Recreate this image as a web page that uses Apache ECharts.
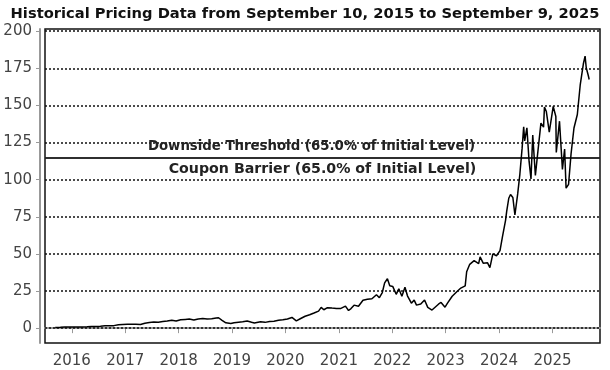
<!DOCTYPE html>
<html>
<head>
<meta charset="utf-8">
<script src="https://cdn.jsdelivr.net/npm/echarts@6/dist/echarts.min.js"></script>
<style>html,body{margin:0;padding:0;background:#fff}#c{width:610px;height:370px}</style>
</head>
<body>
<div id="c"></div>
<script>
const titleText = 'Historical Pricing Data from September 10, 2015 to September 9, 2025';
const thresholdValue = 115;
const thresholdLabel = 'Downside Threshold (65.0% of Initial Level)';
const barrierLabel = 'Coupon Barrier (65.0% of Initial Level)';
const yTicks = [0, 25, 50, 75, 100, 125, 150, 175, 200];
const xTickYears = ['2016', '2017', '2018', '2019', '2020', '2021', '2022', '2023', '2024', '2025'];

const dates = [
'2015-09-10','2015-10-15','2015-11-15','2015-12-15','2016-01-15','2016-02-15','2016-03-15','2016-04-15','2016-05-15','2016-06-15',
'2016-07-15','2016-08-15','2016-09-15','2016-10-15','2016-11-15','2016-12-15','2017-01-15','2017-02-15','2017-03-15','2017-04-15',
'2017-05-15','2017-06-15','2017-07-15','2017-08-15','2017-09-15','2017-10-15','2017-11-15','2017-12-15','2018-01-15','2018-02-15',
'2018-03-15','2018-04-15','2018-05-15','2018-06-15','2018-07-15','2018-08-15','2018-09-15','2018-10-01','2018-10-25','2018-11-20',
'2018-12-24','2019-01-15','2019-02-15','2019-03-15','2019-04-15','2019-05-15','2019-06-03','2019-06-15','2019-07-15','2019-08-15',
'2019-09-15','2019-10-15','2019-11-15','2019-12-15','2020-01-15','2020-02-15','2020-03-16','2020-04-15','2020-05-15','2020-06-15',
'2020-07-15','2020-08-15','2020-09-02','2020-09-20','2020-10-15','2020-11-15','2020-12-15','2021-01-15','2021-02-15','2021-03-08',
'2021-03-25','2021-04-15','2021-05-15','2021-06-15','2021-07-15','2021-08-15','2021-09-15','2021-10-05','2021-10-25','2021-11-10',
'2021-11-29','2021-12-15','2022-01-05','2022-01-28','2022-02-15','2022-03-08','2022-03-29','2022-04-15','2022-05-12','2022-05-31',
'2022-06-16','2022-07-15','2022-08-10','2022-09-01','2022-09-30','2022-10-13','2022-11-15','2022-12-01','2022-12-28','2023-01-15',
'2023-02-15','2023-03-15','2023-04-15','2023-05-15','2023-05-25','2023-06-15','2023-07-15','2023-08-15','2023-08-25','2023-09-15',
'2023-10-15','2023-10-31','2023-11-20','2023-12-15','2024-01-08','2024-01-25','2024-02-15','2024-02-23','2024-03-08','2024-03-20',
'2024-04-05','2024-04-19','2024-05-08','2024-05-23','2024-06-07','2024-06-18','2024-06-25','2024-07-10','2024-07-25','2024-08-07',
'2024-08-19','2024-09-06','2024-09-20','2024-10-14','2024-11-01','2024-11-07','2024-11-20','2024-12-10','2025-01-06','2025-01-24',
'2025-01-27','2025-02-18','2025-03-10','2025-03-25','2025-04-04','2025-04-21','2025-05-08','2025-05-28','2025-06-20','2025-07-10',
'2025-07-31','2025-08-12','2025-08-20','2025-09-02','2025-09-09'
];
const prices = [
0.5,0.6,0.75,0.8,0.7,0.7,0.85,0.9,1.1,1.15,
1.3,1.55,1.6,1.7,2.3,2.5,2.6,2.7,2.6,2.5,
3.3,3.8,4.1,4.0,4.5,4.8,5.3,4.8,5.6,5.9,
6.1,5.5,6.2,6.5,6.2,6.3,6.8,7.0,5.3,3.6,
3.2,3.6,4.0,4.3,4.8,4.0,3.5,3.7,4.3,3.9,
4.5,4.7,5.3,5.6,6.2,7.2,4.9,6.5,8.0,9.0,
10.2,11.5,14.0,12.4,13.8,13.5,13.3,13.3,14.8,11.9,
13.2,15.5,14.8,18.8,19.5,19.8,22.5,20.5,24.0,30.5,
33.3,28.5,28.0,22.8,26.5,21.5,27.5,21.8,16.8,18.9,
15.5,16.2,19.0,14.0,12.2,11.0,16.3,17.3,14.1,17.0,
21.5,24.2,27.0,28.5,38.0,43.0,45.5,43.5,48.0,43.8,
44.0,40.8,50.0,48.8,52.2,61.6,72.6,78.8,87.5,90.0,
88.0,76.2,90.4,103.8,120.9,135.6,126.1,134.9,112.3,100.5,
130.0,102.8,116.0,138.1,135.4,148.9,145.9,132.0,149.4,142.6,
118.4,139.4,106.9,120.7,94.3,96.9,117.4,134.8,143.9,164.1,
177.9,183.2,175.4,170.5,167.5
];

const ts = s => Date.UTC(+s.slice(0, 4), +s.slice(5, 7) - 1, +s.slice(8, 10));
const seriesData = dates.map((d, i) => [ts(d), prices[i]]);
const xTickValues = xTickYears.map(y => ts(y + '-01-01'));
const FONT = 'DejaVu Sans';

const chart = echarts.init(document.getElementById('c'), null, {renderer: 'canvas'});

const gridLines = yTicks.map(v => ({
  yAxis: v,
  lineStyle: {type: [2, 2], color: '#111', width: 1.5},
  label: {show: false}
}));

chart.setOption({
  animation: false,
  backgroundColor: '#fff',
  title: {
    text: titleText,
    left: 'center',
    top: 2,
    textStyle: {fontFamily: FONT, fontSize: 14.7, fontWeight: 'bold', color: '#111'}
  },
  grid: {
    left: 45, right: 10, top: 29, bottom: 27,
    show: true, borderColor: '#111', borderWidth: 1.5, backgroundColor: 'transparent'
  },
  xAxis: {
    type: 'value',
    min: ts('2015-07-02'),
    max: ts('2025-11-22'),
    offset: 5,
    axisLine: {show: true, lineStyle: {color: '#999', width: 2}},
    axisTick: {show: true, length: 5, lineStyle: {color: '#999', width: 1}, customValues: xTickValues},
    axisLabel: {
      customValues: xTickValues,
      formatter: v => String(new Date(v).getUTCFullYear()),
      fontFamily: FONT, fontSize: 15, color: '#444', margin: 6
    },
    splitLine: {show: false}
  },
  yAxis: {
    type: 'value',
    min: -10,
    max: 201.5,
    offset: 5,
    axisLine: {show: true, lineStyle: {color: '#999', width: 2}},
    axisTick: {show: true, length: 4, lineStyle: {color: '#999', width: 1}, customValues: yTicks},
    axisLabel: {customValues: yTicks, fontFamily: FONT, fontSize: 15, color: '#444', margin: 8},
    splitLine: {show: false}
  },
  series: [{
    type: 'line',
    data: seriesData,
    showSymbol: false,
    symbol: 'none',
    lineStyle: {color: '#000', width: 1.5},
    z: 3,
    markLine: {
      silent: true,
      symbol: 'none',
      z: 2,
      data: gridLines.concat([
        {
          yAxis: thresholdValue,
          lineStyle: {type: 'solid', color: '#222', width: 1.5},
          label: {
            show: true, position: 'insideMiddleTop', distance: 4, offset: [-11, 0],
            formatter: thresholdLabel,
            fontFamily: FONT, fontSize: 13.3, fontWeight: 'bold', color: '#222'
          }
        },
        {
          yAxis: thresholdValue,
          lineStyle: {type: 'solid', color: '#222', width: 1.5},
          label: {
            show: true, position: 'insideMiddleBottom', distance: 5,
            formatter: barrierLabel,
            fontFamily: FONT, fontSize: 14.2, fontWeight: 'bold', color: '#222'
          }
        }
      ])
    }
  }]
});
</script>
</body>
</html>
